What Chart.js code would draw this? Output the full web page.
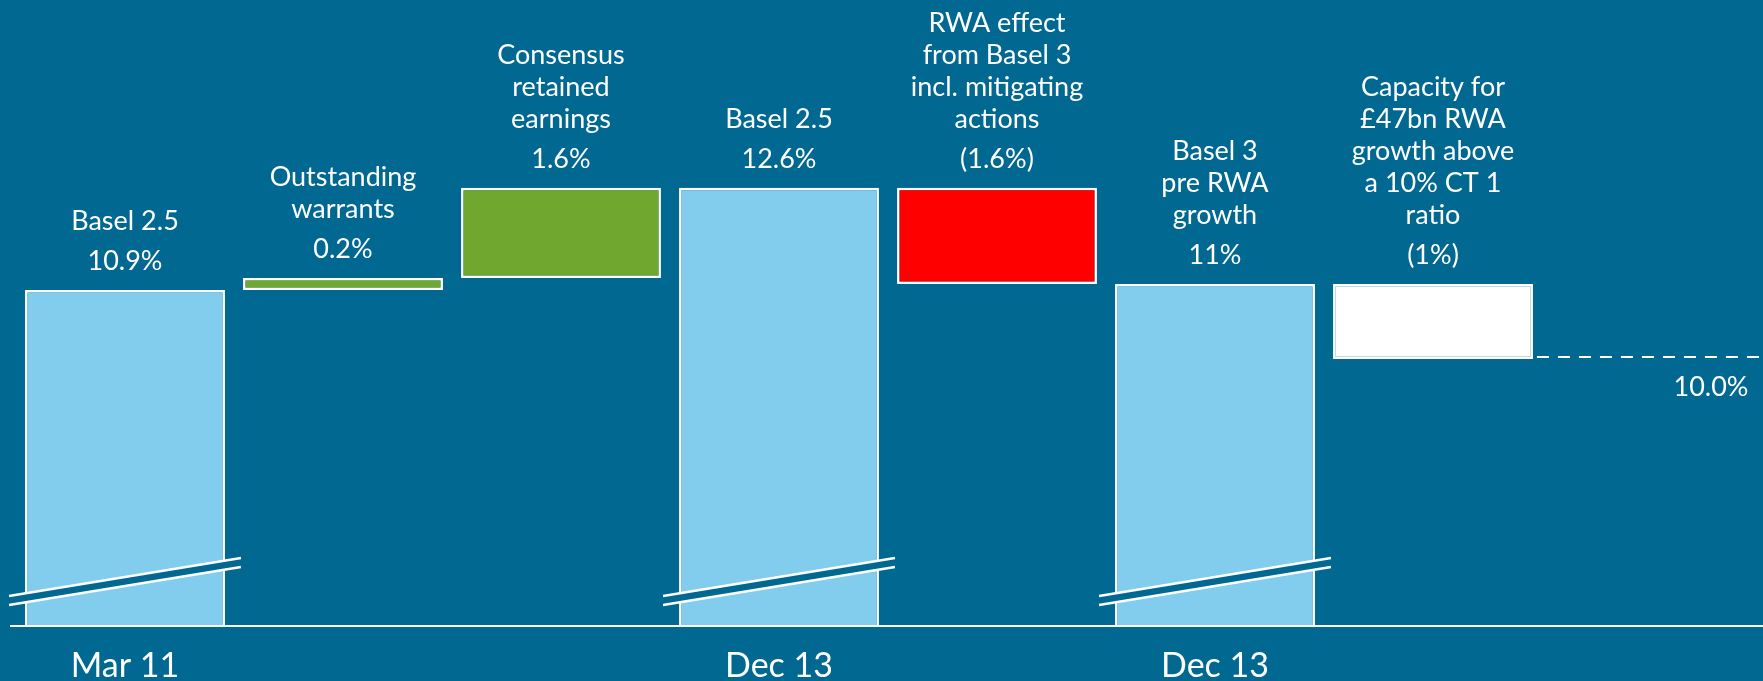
<!DOCTYPE html>
<html>
<head>
<meta charset="utf-8">
<script src="https://cdn.jsdelivr.net/npm/chart.js@4"></script>
<style>
  html, body { margin: 0; padding: 0; background: #006891; }
  canvas { display: block; }
</style>
</head>
<body>
<canvas id="myChart" width="1763" height="681"></canvas>
<script>
// data
var categories = ["Mar 11", "", "", "Dec 13", "", "Dec 13", "", ""];
var barBottom = [0, 10.9, 11.1, 0, 11.0, 0, 9.75];
var barTop = [10.9, 11.1, 12.6, 12.6, 12.6, 11.0, 11.0];
var valueLabels = ["10.9%", "0.2%", "1.6%", "12.6%", "(1.6%)", "11%", "(1%)"];
var nameLabels = [
  ["Basel 2.5"],
  ["Outstanding", "warrants"],
  ["Consensus", "retained", "earnings"],
  ["Basel 2.5"],
  ["RWA effect", "from Basel 3", "incl. mitigating", "actions"],
  ["Basel 3", "pre RWA", "growth"],
  ["Capacity for", "£47bn RWA", "growth above", "a 10% CT 1", "ratio"]
];
var brokenBars = [0, 3, 5];
var thresholdValue = 9.78;
var thresholdLabel = "10.0%";

var bgColor = "#006891";
var lightBlue = "#82CDED";
var green = "#6FA72F";
var barColors = [lightBlue, green, green, lightBlue, "#FF0000", lightBlue, "#FFFFFF"];

var font = "Lato, 'Open Sans', sans-serif";

var floating = barBottom.map(function (b, i) { return [b, barTop[i]]; });

var extras = {
  id: "extras",
  beforeDraw: function (chart) {
    var ctx = chart.ctx;
    ctx.save();
    ctx.fillStyle = bgColor;
    ctx.fillRect(0, 0, chart.width, chart.height);
    ctx.restore();
  },
  afterDatasetsDraw: function (chart) {
    var ctx = chart.ctx;
    var area = chart.chartArea;
    var y = chart.scales.y;
    var bars = chart.getDatasetMeta(0).data;
    var base = area.bottom;
    ctx.save();

    // axis baseline
    ctx.strokeStyle = "#ffffff";
    ctx.lineWidth = 2;
    ctx.beginPath();
    ctx.moveTo(10, base);
    ctx.lineTo(chart.width, base);
    ctx.stroke();

    // break marks on the tall bars
    brokenBars.forEach(function (i) {
      var b = bars[i];
      var x0 = b.x - b.width / 2 - 16;
      var x1 = b.x + b.width / 2 + 16;
      ctx.fillStyle = bgColor;
      ctx.beginPath();
      ctx.moveTo(x0, base - 30);
      ctx.lineTo(x1, base - 68);
      ctx.lineTo(x1, base - 59);
      ctx.lineTo(x0, base - 21);
      ctx.closePath();
      ctx.fill();
      ctx.strokeStyle = "#ffffff";
      ctx.lineWidth = 2.5;
      ctx.beginPath();
      ctx.moveTo(x0, base - 30);
      ctx.lineTo(x1, base - 68);
      ctx.moveTo(x0, base - 21);
      ctx.lineTo(x1, base - 59);
      ctx.stroke();
    });

    // threshold dashed line
    var last = bars[bars.length - 1];
    var ty = y.getPixelForValue(thresholdValue);
    ctx.setLineDash([12, 9]);
    ctx.lineWidth = 2;
    ctx.beginPath();
    ctx.moveTo(last.x + last.width / 2 + 4, ty);
    ctx.lineTo(chart.width, ty);
    ctx.stroke();
    ctx.setLineDash([]);

    ctx.fillStyle = "#ffffff";
    ctx.textAlign = "center";
    ctx.textBaseline = "middle";
    ctx.font = "27px " + font;
    ctx.fillText(thresholdLabel, 1711, ty + 30);

    // labels above bars
    bars.forEach(function (b, i) {
      var top = y.getPixelForValue(barTop[i]);
      var vy = top - 29;
      ctx.fillText(valueLabels[i], b.x, vy);
      var lines = nameLabels[i];
      for (var k = 0; k < lines.length; k++) {
        var ly = vy - 40 - (lines.length - 1 - k) * 32;
        ctx.fillText(lines[k], b.x, ly);
      }
    });
    ctx.restore();
  }
};

new Chart("myChart", {
  type: "bar",
  data: {
    labels: categories,
    datasets: [{
      data: floating,
      backgroundColor: barColors,
      borderColor: "#ffffff",
      borderWidth: 2.5,
      borderSkipped: false,
      categoryPercentage: 1,
      barPercentage: 0.917
    }]
  },
  options: {
    responsive: false,
    animation: false,
    layout: { padding: { left: 16, right: 3, top: 0, bottom: 0 } },
    plugins: {
      legend: { display: false },
      tooltip: { enabled: false },
      title: { display: false }
    },
    scales: {
      x: {
        grid: { display: false },
        border: { display: false },
        ticks: {
          color: "#ffffff",
          font: { family: font, size: 34 },
          padding: 12,
          autoSkip: false,
          maxRotation: 0
        },
        afterFit: function (scale) { scale.height = 55; }
      },
      y: {
        display: false,
        min: 5.3,
        max: 15.73
      }
    }
  },
  plugins: [extras]
});
</script>
</body>
</html>
